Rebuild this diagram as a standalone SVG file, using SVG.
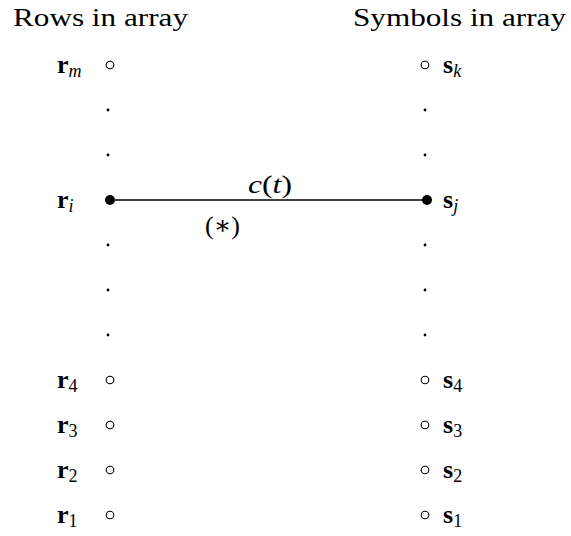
<svg xmlns="http://www.w3.org/2000/svg" width="571" height="536" viewBox="0 0 571 536">
<style>
text{font-family:"Liberation Serif","DejaVu Serif",serif;fill:#000}
.title{font-size:25px}
.lbl{font-size:26px;font-weight:bold}
.sub{font-size:18px;font-weight:normal;font-style:italic}
.subn{font-size:18px;font-weight:normal}
.open{fill:#fff;stroke:#000;stroke-width:1.1}
.dot{fill:#000}
.math{font-size:26px}
</style>
<rect width="571" height="536" fill="#fff"/>
<text class="title" x="13" y="26" textLength="175" lengthAdjust="spacingAndGlyphs">Rows in array</text>
<text class="title" x="353" y="26" textLength="213" lengthAdjust="spacingAndGlyphs">Symbols in array</text>
<g id="connectors">
<line x1="110" y1="200" x2="427" y2="200" stroke="#000" stroke-width="1.6"/>
<text class="math" x="248" y="193" textLength="44" lengthAdjust="spacingAndGlyphs"><tspan font-style="italic">c</tspan>(<tspan font-style="italic">t</tspan>)</text>
<text class="math" x="205" y="234" textLength="35" lengthAdjust="spacingAndGlyphs">(∗)</text>
</g>
<g id="dots">
<circle class="dot" cx="108" cy="110" r="1.4"/><circle class="dot" cx="108" cy="155" r="1.4"/>
<circle class="dot" cx="108" cy="245" r="1.4"/><circle class="dot" cx="108" cy="290" r="1.4"/><circle class="dot" cx="108" cy="335" r="1.4"/>
<circle class="dot" cx="425" cy="110" r="1.4"/><circle class="dot" cx="425" cy="155" r="1.4"/>
<circle class="dot" cx="425" cy="245" r="1.4"/><circle class="dot" cx="425" cy="290" r="1.4"/><circle class="dot" cx="425" cy="335" r="1.4"/>
</g>
<g id="r_m"><text class="lbl" x="57" y="73">r<tspan class="sub" dy="4">m</tspan></text><circle class="open" cx="110" cy="65" r="3.8"/></g>
<g id="r_i"><text class="lbl" x="57" y="208">r<tspan class="sub" dy="4">i</tspan></text><circle class="dot" cx="110" cy="200" r="5"/></g>
<g id="r_4"><text class="lbl" x="57" y="388">r<tspan class="subn" dy="4">4</tspan></text><circle class="open" cx="110" cy="380" r="3.8"/></g>
<g id="r_3"><text class="lbl" x="57" y="433">r<tspan class="subn" dy="4">3</tspan></text><circle class="open" cx="110" cy="425" r="3.8"/></g>
<g id="r_2"><text class="lbl" x="57" y="478">r<tspan class="subn" dy="4">2</tspan></text><circle class="open" cx="110" cy="470" r="3.8"/></g>
<g id="r_1"><text class="lbl" x="57" y="523">r<tspan class="subn" dy="4">1</tspan></text><circle class="open" cx="110" cy="515" r="3.8"/></g>
<g id="s_k"><circle class="open" cx="425" cy="65" r="3.8"/><text class="lbl" x="443" y="73">s<tspan class="sub" dy="4">k</tspan></text></g>
<g id="s_j"><circle class="dot" cx="427" cy="200" r="5"/><text class="lbl" x="443" y="208">s<tspan class="sub" dy="4">j</tspan></text></g>
<g id="s_4"><circle class="open" cx="425" cy="380" r="3.8"/><text class="lbl" x="443" y="388">s<tspan class="subn" dy="4">4</tspan></text></g>
<g id="s_3"><circle class="open" cx="425" cy="425" r="3.8"/><text class="lbl" x="443" y="433">s<tspan class="subn" dy="4">3</tspan></text></g>
<g id="s_2"><circle class="open" cx="425" cy="470" r="3.8"/><text class="lbl" x="443" y="478">s<tspan class="subn" dy="4">2</tspan></text></g>
<g id="s_1"><circle class="open" cx="425" cy="515" r="3.8"/><text class="lbl" x="443" y="523">s<tspan class="subn" dy="4">1</tspan></text></g>
</svg>
